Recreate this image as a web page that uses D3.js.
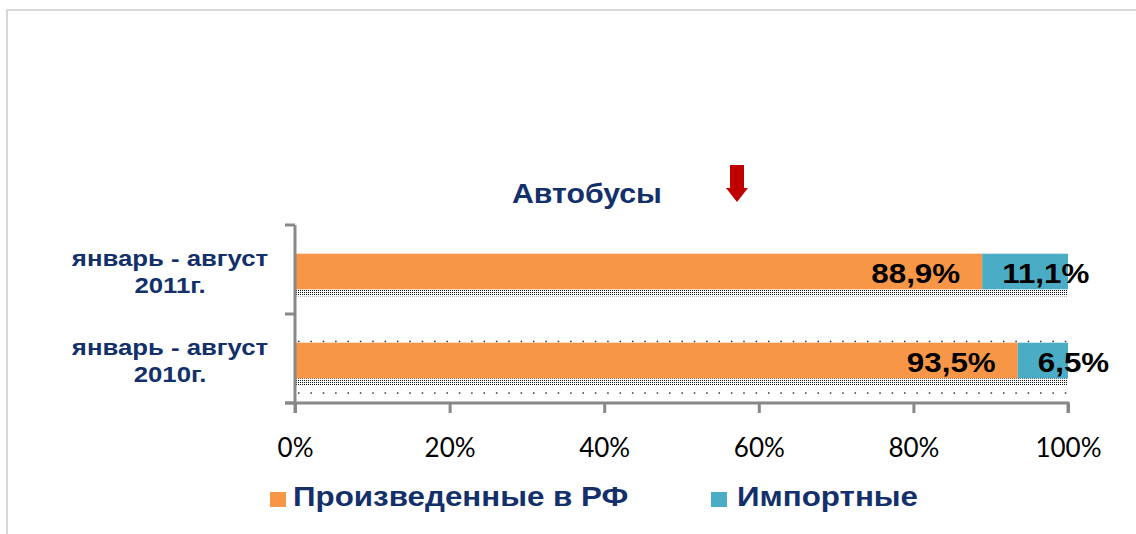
<!DOCTYPE html>
<html>
<head>
<meta charset="utf-8">
<script src="https://cdn.jsdelivr.net/npm/d3@7"></script>
<style>
  body { margin: 0; background: #fff; }
  svg { display: block; }
</style>
</head>
<body>
<script>
// data
const categories = ["2011", "2010"];
const categoryLines = [["январь - август", "2011г."], ["январь - август", "2010г."]];
const domestic = [88.9, 93.5];   // Произведенные в РФ
const imported = [11.1, 6.5];    // Импортные
const seriesNames = ["Произведенные в РФ", "Импортные"];
const xTicks = [0, 20, 40, 60, 80, 100];

const width = 1136, height = 534;
const navy = "#13306a";
const orange = "#f79646", teal = "#4bacc6";
const axisGray = "#888";
const stretch = 1.12; // source picture is a bit wider than normal type

const svg = d3.select("body").append("svg")
  .attr("width", width)
  .attr("height", height);

// dotted fills (the shadow band under the bars)
const defs = svg.append("defs");
const dense = defs.append("pattern").attr("id", "dense")
  .attr("width", 2).attr("height", 2).attr("patternUnits", "userSpaceOnUse");
dense.append("rect").attr("width", 2).attr("height", 2).attr("fill", "#fff");
dense.append("rect").attr("width", 1).attr("height", 1).attr("fill", "#111");

// frame
svg.append("path")
  .attr("d", "M7,534 V10 H1136")
  .attr("fill", "none").attr("stroke", "#ccc").attr("stroke-width", 1.5);

const x = d3.scaleLinear().domain([0, 100]).range([295, 1068]);
const y = d3.scaleBand().domain(categories).range([227, 405])
  .paddingInner(0.6).paddingOuter(0.3);

// shadow bands + sparse dot rows
categories.forEach((c, i) => {
  svg.append("rect")
    .attr("x", x(0)).attr("y", y(c) + y.bandwidth())
    .attr("width", x(100) - x(0)).attr("height", 7)
    .attr("fill", "url(#dense)");
});
const sparse = d3.range(0, 100, 1.6);
[y("2010") - 2, y("2010") + y.bandwidth() + 14].forEach(yy => {
  svg.append("g").selectAll("rect").data(sparse).enter().append("rect")
    .attr("x", d => x(d) + 3).attr("y", yy)
    .attr("width", 1.5).attr("height", 1.5).attr("fill", "#333");
});

// bars
const stacked = categories.map((c, i) => ({ c, d: domestic[i], m: imported[i] }));
svg.selectAll(".dom").data(stacked).enter().append("rect")
  .attr("x", x(0)).attr("y", d => y(d.c))
  .attr("width", d => x(d.d) - x(0)).attr("height", y.bandwidth())
  .attr("fill", orange);
svg.selectAll(".imp").data(stacked).enter().append("rect")
  .attr("x", d => x(d.d)).attr("y", d => y(d.c))
  .attr("width", d => x(d.d + d.m) - x(d.d)).attr("height", y.bandwidth())
  .attr("fill", teal);

// axes
const yTop = 225, yBot = 403;
svg.append("line").attr("x1", 295).attr("x2", 295).attr("y1", yTop).attr("y2", yBot + 10)
  .attr("stroke", axisGray).attr("stroke-width", 3);
[yTop, (yTop + yBot) / 2, yBot].forEach(t => {
  svg.append("line").attr("x1", 285).attr("x2", 295).attr("y1", t).attr("y2", t)
    .attr("stroke", axisGray).attr("stroke-width", 3);
});
const xAxis = d3.axisBottom(x).tickValues(xTicks).tickSize(10).tickPadding(26)
  .tickFormat(d => d + "%");
const gx = svg.append("g").attr("transform", `translate(0,${yBot})`).call(xAxis);
gx.select(".domain").attr("stroke", axisGray).attr("stroke-width", 3)
  .attr("d", `M285,0H${x(100)}V10`);
gx.selectAll(".tick line").attr("stroke", axisGray).attr("stroke-width", 3);
gx.selectAll(".tick text").attr("fill", "#000")
  .style("font-family", "Lato, 'Open Sans', sans-serif").style("font-size", "26px");

function sText(g, tx, ty, str, anchor) {
  return g.append("text")
    .attr("transform", `translate(${tx},${ty}) scale(${stretch},1)`)
    .attr("text-anchor", anchor || "start")
    .text(str);
}

// data labels
const lab = svg.append("g").attr("fill", "#000")
  .style("font-family", "'Liberation Sans', Arial, sans-serif")
  .style("font-size", "28px").style("font-weight", "bold");
stacked.forEach(d => {
  const by = y(d.c) + y.bandwidth() / 2 + 11;
  sText(lab, x(d.d) - 22, by, d3.format(".1f")(d.d).replace(".", ",") + "%", "end");
  sText(lab, x(d.d) + 20, by, d3.format(".1f")(d.m).replace(".", ",") + "%", "start");
});

// category labels
const cl = svg.append("g").attr("fill", navy)
  .style("font-family", "'Liberation Sans', Arial, sans-serif")
  .style("font-size", "23px").style("font-weight", "bold");
categories.forEach((c, i) => {
  const cy = y(c) + y.bandwidth() / 2;
  sText(cl, 170, cy - 6, categoryLines[i][0], "middle");
  sText(cl, 170, cy + 21, categoryLines[i][1], "middle");
});

// title
const tg = svg.append("g").attr("fill", navy)
  .style("font-family", "'Liberation Sans', Arial, sans-serif")
  .style("font-size", "27px").style("font-weight", "bold");
sText(tg, 512, 203, "Автобусы");

// red arrow
svg.append("path")
  .attr("d", "M730,165 H744 V188 H748 L737,202 L726,188 H730 Z")
  .attr("fill", "#c00000");

// legend
const lg = svg.append("g").attr("fill", navy)
  .style("font-family", "'Liberation Sans', Arial, sans-serif")
  .style("font-size", "28px").style("font-weight", "bold");
const legendX = [[270, 293], [711, 737]];
seriesNames.forEach((s, i) => {
  lg.append("rect").attr("x", legendX[i][0]).attr("y", 492).attr("width", 16).attr("height", 15)
    .attr("fill", i === 0 ? orange : teal);
  sText(lg, legendX[i][1], 506, s);
});
</script>
</body>
</html>
